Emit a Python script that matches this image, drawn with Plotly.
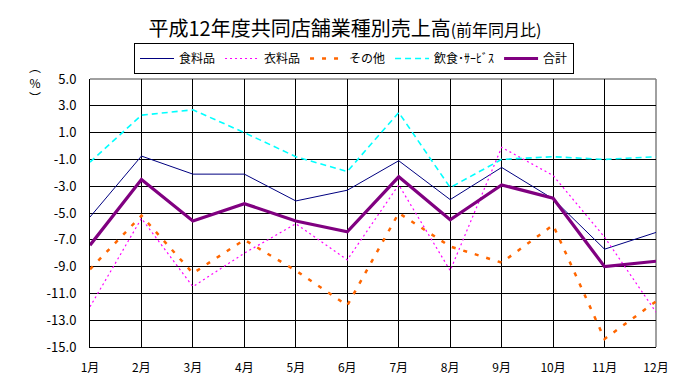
import plotly.graph_objects as go

months = ["1月", "2月", "3月", "4月", "5月", "6月", "7月", "8月", "9月", "10月", "11月", "12月"]
food = [-5.3, -0.75, -2.1, -2.1, -4.1, -3.3, -1.1, -4.0, -1.6, -3.95, -7.7, -6.45]
clothing = [-12.0, -5.4, -10.5, -8.0, -5.8, -8.5, -2.9, -9.3, -0.1, -2.2, -6.8, -12.4]
other = [-9.2, -5.2, -9.5, -7.0, -9.3, -11.9, -5.0, -7.5, -8.7, -5.9, -14.4, -11.6]
food_service = [-1.2, 2.3, 2.7, 1.0, -0.8, -1.9, 2.5, -3.1, -1.0, -0.8, -1.0, -0.8]
total = [-7.4, -2.5, -5.6, -4.3, -5.6, -6.4, -2.3, -5.5, -2.9, -3.9, -9.0, -8.6]

y_tickvals = [5, 3, 1, -1, -3, -5, -7, -9, -11, -13, -15]
y_ticktext = ["5.0", "3.0", "1.0", "-1.0", "-3.0", "-5.0", "-7.0", "-9.0", "-11.0", "-13.0", "-15.0"]

FONT = "Noto Sans CJK JP"

fig = go.Figure()
fig.add_trace(go.Scatter(x=months, y=food, name="食料品", mode="lines",
                         line=dict(color="#000080", width=1)))
fig.add_trace(go.Scatter(x=months, y=clothing, name="衣料品", mode="lines",
                         line=dict(color="#FF00FF", width=1.2, dash="2px,3px")))
fig.add_trace(go.Scatter(x=months, y=other, name="その他", mode="lines",
                         line=dict(color="#FF6600", width=2.5, dash="4px,8px")))
fig.add_trace(go.Scatter(x=months, y=food_service, name="飲食･ｻｰﾋﾞｽ", mode="lines",
                         line=dict(color="#00FFFF", width=1.6, dash="6px,4px")))
fig.add_trace(go.Scatter(x=months, y=total, name="合計", mode="lines",
                         line=dict(color="#800080", width=3.2)))

# page body has an 8px default margin; size the figure to fit the window
OFF = 8
W, H = 688 - OFF, 390 - OFF
L, T = 90 - OFF, 79 - OFF
pw, ph = 566, 268
R = W - L - pw
B = H - T - ph

fig.update_layout(
    width=W, height=H,
    margin=dict(l=L, r=R, t=T, b=B, autoexpand=False),
    paper_bgcolor="white", plot_bgcolor="white",
    font=dict(family=FONT, size=12, color="black"),
    title=dict(
        text="平成12年度共同店舗業種別売上高<span style='font-size:16px'>(前年同月比)</span>",
        x=(345 - OFF) / W, xanchor="center", xref="container",
        y=1 - (29 - OFF) / H, yanchor="middle", yref="container",
        font=dict(family=FONT, size=20, color="black"),
    ),
    showlegend=True,
    legend=dict(
        orientation="h", xref="paper", yref="paper",
        x=(134 - 90) / pw, xanchor="left", y=(347 - 43) / ph, yanchor="top",
        bordercolor="black", borderwidth=1, bgcolor="white",
        font=dict(family=FONT, size=12, color="black"),
        itemwidth=34, tracegroupgap=0,
    ),
    xaxis=dict(
        type="category", range=[0, 11], showgrid=True, gridcolor="black", gridwidth=1,
        showline=True, linecolor="black", linewidth=1, ticks="", ticklabelstandoff=10,
        tickfont=dict(family=FONT, size=12), zeroline=False, fixedrange=True,
    ),
    yaxis=dict(
        range=[-15, 5], tickvals=y_tickvals, ticktext=y_ticktext,
        showgrid=True, gridcolor="black", gridwidth=1,
        showline=True, linecolor="black", linewidth=1, ticks="", ticklabelstandoff=10,
        tickfont=dict(family=FONT, size=13), zeroline=False, fixedrange=True,
    ),
    shapes=[
        dict(type="line", xref="paper", yref="paper", x0=0, x1=1, y0=1, y1=1,
             line=dict(color="#808080", width=1.5), layer="between"),
        dict(type="line", xref="paper", yref="paper", x0=1, x1=1, y0=0, y1=1,
             line=dict(color="#808080", width=1.5), layer="between"),
    ],
    annotations=[
        dict(text="︵<br>%<br>︶", xref="paper", yref="paper",
             x=(35 - 90) / pw, y=(347 - 82) / ph, xanchor="center", yanchor="middle",
             showarrow=False, font=dict(family=FONT, size=12, color="black")),
    ],
)

fig.write_html("out.html")
